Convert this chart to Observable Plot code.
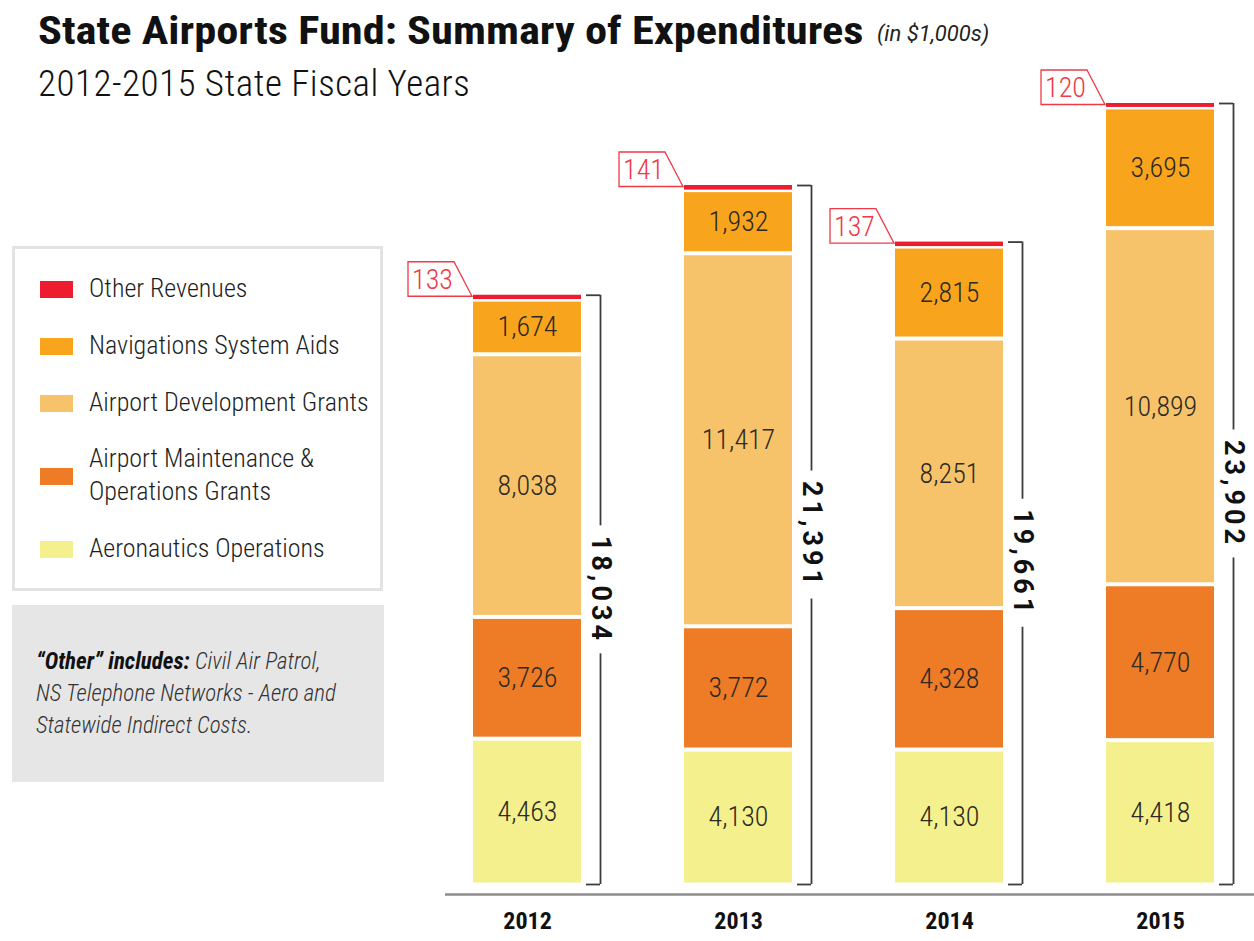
<!DOCTYPE html>
<html>
<head>
<meta charset="utf-8">
<script src="https://cdn.jsdelivr.net/npm/d3@7"></script>
<script src="https://cdn.jsdelivr.net/npm/@observablehq/plot@0.6"></script>
<style>
  html, body { margin: 0; padding: 0; background: #fff; }
  body { width: 1254px; height: 941px; position: relative; overflow: hidden;
         font-family: "Roboto Condensed", "Liberation Sans Narrow", "Arial Narrow", "DejaVu Sans Condensed", sans-serif; color: #1a1a1a; }
  #chart { position: absolute; left: 0; top: 0; z-index: 0; }
  .abs { position: absolute; z-index: 1; white-space: nowrap; }
  #title { left: 38px; top: 9px; font-size: 38px; font-weight: bold; line-height: 44px; color: #111; transform: scaleX(1.17); transform-origin: 0 0; }
  #unit { left: 877px; top: 19px; font-family: Roboto, "Liberation Sans", sans-serif; font-size: 22px; font-style: italic; line-height: 30px; color: #222; }
  #subtitle { left: 38px; top: 63px; font-size: 37px; font-weight: 300; letter-spacing: 0.5px; line-height: 42px; color: #111; }
  #legend { left: 12px; top: 246px; width: 371px; height: 345px; border: 3px solid #e3e3e3; box-sizing: border-box; }
  .sw { position: absolute; left: 40px; width: 33px; height: 17px; z-index: 1; }
  .lt { position: absolute; left: 89px; font-size: 26px; font-weight: 300; line-height: 33px; color: #1e1e1e; z-index: 1; white-space: nowrap; }
  #note { left: 12px; top: 605px; width: 372px; height: 177px; background: #e6e6e7; }
  #notetext { left: 36px; top: 646px; font-size: 23px; line-height: 32px; font-style: italic; font-weight: 300; color: #333; }
  #notetext b { color: #111; font-weight: bold; }
</style>
</head>
<body>
<div id="chart"></div>
<div class="abs" id="title">State Airports Fund: Summary of Expenditures</div>
<div class="abs" id="unit">(in $1,000s)</div>
<div class="abs" id="subtitle">2012-2015 State Fiscal Years</div>
<div class="abs" id="legend"></div>
<div class="abs" id="note"></div>
<div class="abs" id="notetext"><b>“Other” includes:</b> Civil Air Patrol,<br>NS Telephone Networks - Aero and<br>Statewide Indirect Costs.</div>
<script>
// ---- Data ----
const years = ["2012", "2013", "2014", "2015"];
const seriesNames = ["Aeronautics Operations", "Airport Maintenance & Operations Grants", "Airport Development Grants", "Navigations System Aids", "Other Revenues"];
const aeronautics = [4463, 4130, 4130, 4418];
const maintenance = [3726, 3772, 4328, 4770];
const development = [8038, 11417, 8251, 10899];
const navigation = [1674, 1932, 2815, 3695];
const other = [133, 141, 137, 120];
const totals = [18034, 21391, 19661, 23902];
const colors = ["#f5f08e", "#ee7b25", "#f6c36b", "#f8a51d", "#ed1c2e"];
const legendOrder = ["Other Revenues", "Navigations System Aids", "Airport Development Grants", "Airport Maintenance & Operations Grants", "Aeronautics Operations"];
const legendLabels = ["Other Revenues", "Navigations System Aids", "Airport Development Grants", "Airport Maintenance &amp;<br>Operations Grants", "Aeronautics Operations"];

// ---- Build table ----
const seriesValues = [aeronautics, maintenance, development, navigation, other];
const rows = [];
years.forEach((yr, i) => {
  let acc = 0;
  seriesValues.forEach((vals, s) => {
    const v = vals[i];
    rows.push({year: yr, series: seriesNames[s], value: v, y1: acc, y2: acc + v});
    acc += v;
  });
});
const mainRows = rows.filter(d => d.series !== "Other Revenues");
const otherRows = rows.filter(d => d.series === "Other Revenues");
const totalRows = years.map((yr, i) => ({year: yr, total: totals[i], top: rows.filter(r => r.year === yr).slice(-1)[0].y2, half: totals[i] / 2, other: other[i]}));
const fmt = d3.format(",");
const FONT = '"Roboto Condensed", "Liberation Sans Narrow", "Arial Narrow", "DejaVu Sans Condensed", sans-serif';

// callout outline drawn from the scales
const callouts = (index, scales) => {
  const g = d3.create("svg:g").attr("aria-label", "callouts");
  totalRows.forEach(d => {
    const x0 = scales.x(d.year);
    const yt = scales.y(d.top);
    g.append("path")
      .attr("d", `M${x0 - 65},${yt + 1.5}V${yt - 33}H${x0 - 19}L${x0 - 1},${yt + 1.5}Z`)
      .attr("fill", "none").attr("stroke", "#ee3a46").attr("stroke-width", 1.3);
  });
  return g.node();
};

const chart = Plot.plot({
  width: 1254,
  height: 941,
  marginLeft: 445,
  marginRight: 0,
  marginTop: 103,
  marginBottom: 57,
  style: {background: "transparent", fontFamily: FONT, overflow: "visible"},
  x: {type: "band", domain: years, paddingInner: 0.49, paddingOuter: 0.156, align: 0.41, axis: null},
  y: {domain: [0, 23902], axis: null},
  color: {domain: seriesNames, range: colors},
  marks: [
    Plot.ruleY([0], {dy: 10, stroke: "#8c8c8c", strokeWidth: 2.5}),
    Plot.barY(mainRows, {x: "year", y1: "y1", y2: "y2", fill: "series", insetTop: 2.5, insetBottom: 1.5}),
    Plot.barY(otherRows, {x: "year", y1: "y1", y2: "y2", fill: "series"}),
    Plot.text(mainRows, {x: "year", y: d => (d.y1 + d.y2) / 2, text: d => fmt(d.value), dy: 0.5, fontSize: 28, fontWeight: 300, fill: "#2e2a22"}),
    // brackets
    Plot.ruleX(totalRows, {x: "year", y1: "top", y2: "half", insetBottom: 64, dx: 73, stroke: "#3d3d3d", strokeWidth: 1.8}),
    Plot.ruleX(totalRows, {x: "year", y1: "half", y2: d => 0, insetTop: 64, dx: 73, stroke: "#3d3d3d", strokeWidth: 1.8}),
    Plot.tickY(totalRows, {x: "year", y: "top", dx: 113, insetRight: 94, stroke: "#3d3d3d", strokeWidth: 1.8}),
    Plot.tickY(totalRows, {x: "year", y: d => 0, dx: 113, insetRight: 94, stroke: "#3d3d3d", strokeWidth: 1.8}),
    Plot.text(totalRows, {x: "year", y: "half", text: d => fmt(d.total), rotate: 90, dx: 73, fontSize: 27, fontWeight: "bold", fontFamily: 'Roboto, "Liberation Sans", sans-serif', fill: "#111"}),
    // callouts for "Other"
    callouts,
    Plot.text(totalRows, {x: "year", y: "top", text: d => String(d.other), dx: -95, dy: -15.5, fontSize: 28, fontWeight: 300, fill: "#ee3a46"}),
    // year labels
    Plot.text(years, {x: d => d, frameAnchor: "bottom", dy: 44, fontSize: 24, fontWeight: "bold", fill: "#111"})
  ]
});
document.getElementById("chart").appendChild(chart);
// widen the spacing of the rotated total labels
const totalLabels = new Set(totals.map(fmt));
chart.querySelectorAll("text").forEach(t => {
  if (totalLabels.has(t.textContent)) t.style.letterSpacing = "4px";
});

// ---- Legend (HTML) ----
const legendY = [289, 346, 403, 476, 549];
const legendTextTop = [272, 329, 386, 442, 532];
legendOrder.forEach((name, i) => {
  const sw = document.createElement("div");
  sw.className = "sw";
  sw.style.top = (legendY[i] - 8.5) + "px";
  sw.style.background = colors[seriesNames.indexOf(name)];
  document.body.appendChild(sw);
  const t = document.createElement("div");
  t.className = "lt";
  t.style.top = legendTextTop[i] + "px";
  t.innerHTML = legendLabels[i];
  document.body.appendChild(t);
});
</script>
</body>
</html>
